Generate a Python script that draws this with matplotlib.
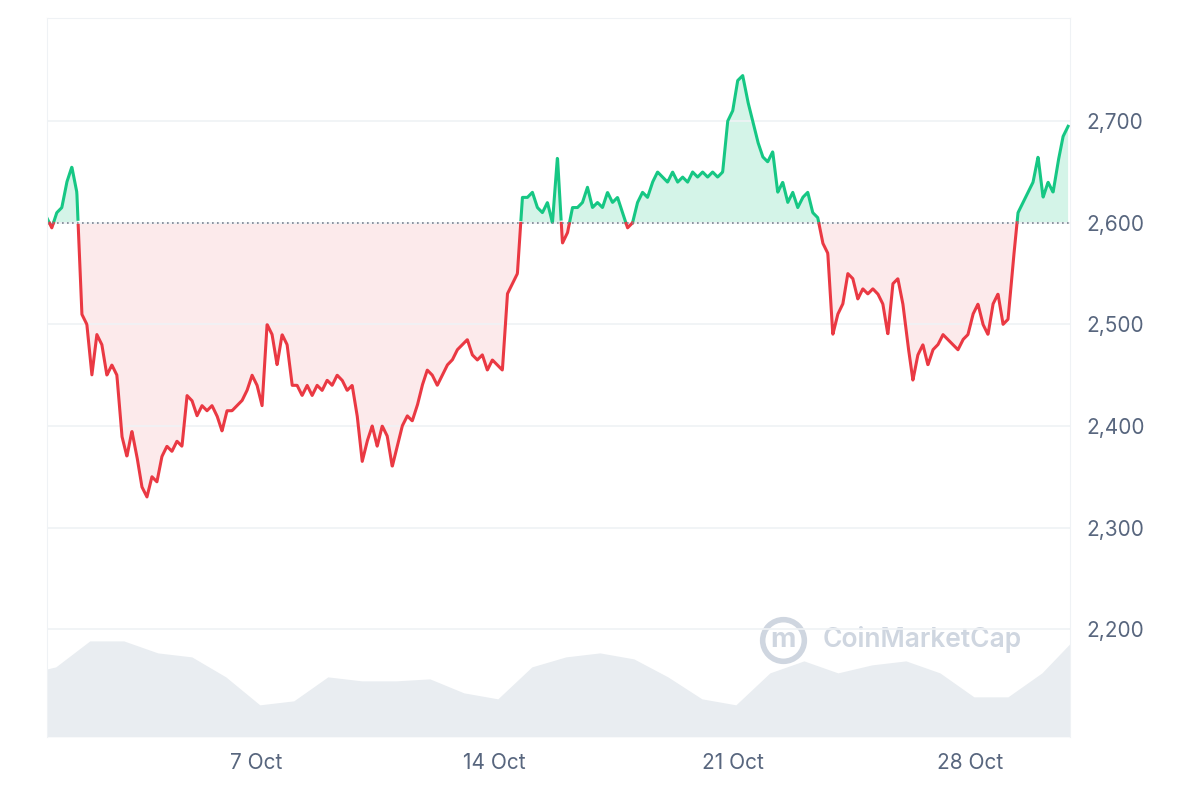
import numpy as np
import pandas as pd
import matplotlib.pyplot as plt
import matplotlib.ticker as mticker
import matplotlib.dates as mdates

# price, sampled every ~3.5 hours from 30 Sep 17:40
prices = [
    2605, 2595, 2610, 2615, 2640, 2655, 2630, 2510, 2500, 2450, 2490, 2480, 2450, 2460, 2450,
    2390, 2370, 2395, 2370, 2340, 2330, 2350, 2345, 2370, 2380, 2375, 2385, 2380, 2430, 2425,
    2410, 2420, 2415, 2420, 2410, 2395, 2415, 2415, 2420, 2425, 2435, 2450, 2440, 2420, 2500,
    2490, 2460, 2490, 2480, 2440, 2440, 2430, 2440, 2430, 2440, 2435, 2445, 2440, 2450, 2445,
    2435, 2440, 2410, 2365, 2385, 2400, 2380, 2400, 2390, 2360, 2380, 2400, 2410, 2405, 2420,
    2440, 2455, 2450, 2440, 2450, 2460, 2465, 2475, 2480, 2485, 2470, 2465, 2470, 2455, 2465,
    2460, 2455, 2530, 2540, 2550, 2625, 2625, 2630, 2615, 2610, 2620, 2600, 2665, 2580, 2590,
    2615, 2615, 2620, 2635, 2615, 2620, 2615, 2630, 2620, 2625, 2610, 2595, 2600, 2620, 2630,
    2625, 2640, 2650, 2645, 2640, 2650, 2640, 2645, 2640, 2650, 2645, 2650, 2645, 2650, 2645,
    2650, 2700, 2710, 2740, 2745, 2720, 2700, 2680, 2665, 2660, 2670, 2630, 2640, 2620, 2630,
    2615, 2625, 2630, 2610, 2605, 2580, 2570, 2490, 2510, 2520, 2550, 2545, 2525, 2535, 2530,
    2535, 2530, 2520, 2490, 2540, 2545, 2520, 2480, 2445, 2470, 2480, 2460, 2475, 2480, 2490,
    2485, 2480, 2475, 2485, 2490, 2510, 2520, 2500, 2490, 2520, 2530, 2500, 2505, 2560, 2610,
    2620, 2630, 2640, 2665, 2625, 2640, 2630, 2660, 2685, 2695,
]
baseline = 2600

# volume (billions, approx) by day of October
vol_days = [0.75, 1, 2, 3, 4, 5, 6, 7, 8, 9, 10, 11, 12, 13, 14, 15, 16, 17, 18, 19, 20,
            21, 22, 23, 24, 25, 26, 27, 28, 29, 30, 30.9]
volumes = [17, 17.5, 24, 24, 21, 20, 15, 8, 9, 15, 14, 14, 14.5, 11, 9.5, 17.5, 20, 21,
           19.5, 15, 9.5, 8, 16, 19, 16, 18, 19, 16, 10, 10, 16, 24]

ticks = ['2024-10-07', '2024-10-14', '2024-10-21', '2024-10-28']
tick_labels = ['7 Oct', '14 Oct', '21 Oct', '28 Oct']

plt.rcParams['font.family'] = ['Inter', 'DejaVu Sans']

times = pd.date_range('2024-09-30 20:00', periods=len(prices), freq='212min')
p = np.array(prices, dtype=float)
vtimes = pd.Timestamp('2024-09-30 02:20') + pd.to_timedelta(vol_days, unit='D')

green = '#16c784'
red = '#ea3943'
grid = '#eff2f5'
txt = '#58667e'

fig = plt.figure(figsize=(12, 8), dpi=100)
ax = fig.add_axes([0.039, 0.079, 0.8525, 0.899])
axv = ax.twinx()
axv.set_zorder(0)
ax.set_zorder(1)
ax.patch.set_visible(False)

axv.fill_between(vtimes, volumes, 0, color='#e9edf1', lw=0)
axv.set_ylim(0, 180)
axv.set_yticks([])
for s in axv.spines.values():
    s.set_visible(False)

# upsample for clean color switch at baseline
tn = mdates.date2num(times)
fine_t = np.linspace(tn[0], tn[-1], len(tn) * 20)
fine_p = np.interp(fine_t, tn, p)
up = fine_p >= baseline
ax.fill_between(fine_t, fine_p, baseline, where=up, color=green, alpha=0.18, lw=0)
ax.fill_between(fine_t, fine_p, baseline, where=~up, color=red, alpha=0.10, lw=0)
ax.plot(fine_t, np.where(up, fine_p, np.nan), color=green, lw=2.2)
ax.plot(fine_t, np.where(~up, fine_p, np.nan), color=red, lw=2.2)
ax.axhline(baseline, color='#7a8290', lw=1.2, ls=(0, (1, 2)))

ax.set_xlim(tn[0], tn[-1] + 0.05)
ax.set_ylim(2094, 2802)
ax.yaxis.tick_right()
ax.set_yticks([2200, 2300, 2400, 2500, 2600, 2700])
ax.yaxis.set_major_formatter(mticker.StrMethodFormatter('{x:,.0f}'))
ax.set_xticks(mdates.date2num(pd.to_datetime(ticks)))
ax.set_xticklabels(tick_labels)
ax.tick_params(length=0, labelsize=15, colors=txt, pad=12)
ax.tick_params(axis='y', pad=12)
ax.grid(axis='y', color=grid, lw=1.2)
for side in ['left', 'right', 'top']:
    ax.spines[side].set_color(grid)
ax.spines['bottom'].set_visible(False)

ax.text(0.758, 0.135, 'CoinMarketCap', transform=ax.transAxes, fontsize=19,
        fontweight='semibold', color='#cfd6e0', ha='left', va='center', zorder=0)
ax.plot([0.72], [0.135], transform=ax.transAxes, marker='o', ms=30, mfc='none',
        mec='#cfd6e0', mew=4, zorder=0)
ax.text(0.72, 0.135, 'm', transform=ax.transAxes, fontsize=20, fontweight='bold',
        color='#cfd6e0', ha='center', va='center', zorder=0)

fig.savefig('out.png')
